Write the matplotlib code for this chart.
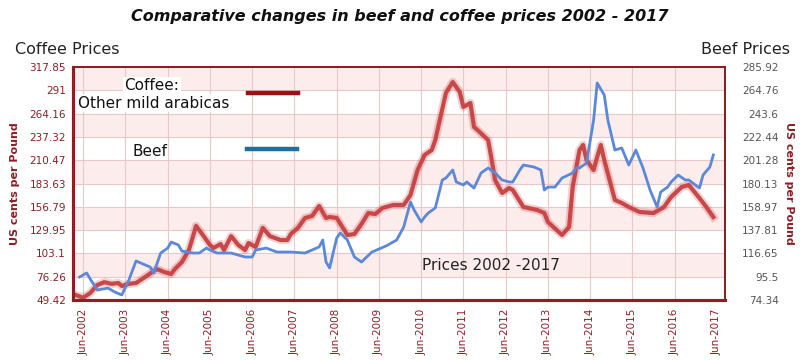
import matplotlib
matplotlib.use("Agg")
import matplotlib.pyplot as plt
import matplotlib.dates as mdates
import numpy as np
import pandas as pd

# ── Data ──────────────────────────────────────────────────────
coffee_months = [
    "2002-04", "2002-06", "2002-08", "2002-10", "2002-12", "2003-02", "2003-04",
    "2003-05", "2003-07", "2003-09", "2003-12", "2004-02", "2004-03", "2004-05",
    "2004-07", "2004-08", "2004-10", "2004-12", "2005-02", "2005-04", "2005-06",
    "2005-07", "2005-09", "2005-10", "2005-12", "2006-02", "2006-04", "2006-05",
    "2006-07", "2006-09", "2006-11", "2007-02", "2007-04", "2007-05", "2007-07",
    "2007-09", "2007-11", "2008-01", "2008-03", "2008-04", "2008-06", "2008-09",
    "2008-11", "2009-01", "2009-03", "2009-05", "2009-07", "2009-10", "2010-01",
    "2010-03", "2010-05", "2010-07", "2010-09", "2010-10", "2011-01", "2011-03",
    "2011-05", "2011-06", "2011-08", "2011-09", "2011-10", "2012-01", "2012-02",
    "2012-03", "2012-05", "2012-07", "2012-08", "2012-11", "2013-03", "2013-05",
    "2013-06", "2013-10", "2013-12", "2014-01", "2014-03", "2014-04", "2014-05",
    "2014-07", "2014-08", "2014-09", "2014-10", "2015-01", "2015-03", "2015-05",
    "2015-08", "2015-12", "2016-03", "2016-05", "2016-08", "2016-10", "2017-01",
    "2017-03", "2017-05",
]
coffee_cents = [
    55.0, 52.0, 57.5, 66.7, 70.0, 68.0, 69.0,
    65.6, 68.0, 69.0, 77.0, 82.8, 85.0, 81.7,
    79.4, 85.0, 93.0, 107.0, 134.7, 124.3, 112.8,
    109.3, 113.9, 107.0, 123.0, 112.8, 107.0, 115.0,
    110.5, 132.4, 123.0, 118.5, 118.5, 125.4, 132.4,
    143.9, 146.2, 157.7, 143.9, 145.0, 143.9, 124.3,
    125.4, 137.0, 149.6, 148.5, 155.4, 158.9, 158.9,
    170.4, 199.2, 216.5, 222.2, 233.7, 287.9, 300.5,
    289.0, 271.8, 276.4, 248.7, 245.3, 233.7, 210.7,
    187.7, 172.7, 178.4, 176.1, 156.6, 153.1, 149.6,
    139.3, 124.3, 133.5, 179.6, 222.2, 228.0, 210.7,
    199.2, 214.2, 228.0, 210.7, 164.6, 161.2, 156.6,
    150.8, 149.6, 156.6, 168.1, 179.6, 181.9, 166.9,
    156.6, 145.0,
]

beef_months = [
    "2002-05", "2002-07", "2002-08", "2002-10", "2003-01", "2003-03", "2003-05",
    "2003-07", "2003-09", "2003-11", "2004-01", "2004-02", "2004-04", "2004-06",
    "2004-07", "2004-09", "2004-10", "2005-01", "2005-03", "2005-05", "2005-06",
    "2005-08", "2005-12", "2006-04", "2006-06", "2006-07", "2006-10", "2007-01",
    "2007-05", "2007-09", "2008-01", "2008-02", "2008-03", "2008-04", "2008-05",
    "2008-06", "2008-07", "2008-09", "2008-11", "2009-01", "2009-04", "2009-08",
    "2009-11", "2010-01", "2010-03", "2010-04", "2010-06", "2010-07", "2010-08",
    "2010-10", "2010-12", "2011-01", "2011-03", "2011-04", "2011-06", "2011-07",
    "2011-09", "2011-11", "2012-01", "2012-03", "2012-05", "2012-07", "2012-08",
    "2012-10", "2012-11", "2013-02", "2013-04", "2013-05", "2013-06", "2013-08",
    "2013-10", "2014-01", "2014-02", "2014-03", "2014-05", "2014-07", "2014-08",
    "2014-10", "2014-11", "2015-01", "2015-03", "2015-05", "2015-07", "2015-09",
    "2015-11", "2016-01", "2016-02", "2016-04", "2016-05", "2016-07", "2016-09",
    "2016-10", "2017-01", "2017-02", "2017-04", "2017-05",
]
beef_cents = [
    95.2, 98.9, 93.4, 83.4, 85.2, 81.6, 78.9,
    92.5, 109.8, 107.0, 104.3, 98.9, 117.0, 121.5,
    127.0, 124.3, 118.8, 117.0, 117.0, 121.5, 119.7,
    117.0, 117.0, 113.4, 113.4, 119.7, 121.5, 117.9,
    117.9, 117.0, 122.5, 128.8, 108.8, 103.4, 117.0,
    130.6, 135.2, 128.8, 113.4, 108.8, 117.9, 123.4,
    128.8, 140.6, 163.3, 156.1, 145.2, 149.7, 153.3,
    157.9, 183.3, 185.1, 192.4, 181.5, 178.8, 181.5,
    176.0, 189.7, 194.2, 189.7, 183.3, 181.5, 181.5,
    192.4, 196.9, 195.1, 192.4, 174.2, 176.9, 176.9,
    185.1, 189.7, 194.2, 194.2, 198.7, 237.8, 271.4,
    260.5, 237.8, 210.5, 212.4, 196.9, 210.5, 194.2,
    174.2, 158.8, 172.4, 176.9, 181.5, 187.8, 183.3,
    183.3, 176.0, 187.8, 195.1, 206.0,
]

coffee_ticks = [49.42, 76.26, 103.1, 129.95, 156.79, 183.63, 210.47,
                237.32, 264.16, 291, 317.85]
beef_ticks = [74.34, 95.5, 116.65, 137.81, 158.97, 180.13, 201.28,
              222.44, 243.6, 264.76, 285.92]
tick_years = list(range(2002, 2018))

# ── Style ─────────────────────────────────────────────────────
DARKRED = "#8b1f24"
GRID = "#e8c8c8"
BAND = "#fcecec"
COFFEE = "#c8484a"
BEEF = "#5b88d8"

W, H = 806, 360
fig = plt.figure(figsize=(W / 100, H / 100), dpi=100)
ax = fig.add_axes([73 / W, 1 - 300 / H, (725 - 73) / W, (300 - 67) / H])
ax2 = ax.twinx()


def px(x, y):
    """Pixel position in the reference -> figure fraction."""
    return x / W, 1 - y / H


coffee_x = pd.to_datetime(coffee_months)
beef_x = pd.to_datetime(beef_months)

# background bands + grid
for i in range(len(coffee_ticks) - 1):
    if i % 2 == 1:
        ax.axhspan(coffee_ticks[i], coffee_ticks[i + 1], color=BAND, lw=0, zorder=0)
for t in coffee_ticks[1:-1]:
    ax.axhline(t, color=GRID, lw=0.8, zorder=0.5)
jun_ticks = pd.to_datetime([f"{y}-06-01" for y in tick_years])
for t in jun_ticks[:-1]:
    ax.axvline(t, color=GRID, lw=0.8, zorder=0.5)

# coffee with a soft halo
ax.plot(coffee_x, coffee_cents, color=COFFEE, lw=6, alpha=0.25,
        solid_joinstyle="round", zorder=2)
ax.plot(coffee_x, coffee_cents, color=COFFEE, lw=3, solid_joinstyle="round",
        zorder=3)

ax2.plot(beef_x, beef_cents, color=BEEF, lw=2, solid_joinstyle="round", zorder=3)

ax.set_xlim(pd.Timestamp("2002-03-05"), pd.Timestamp("2017-08-10"))
ax.set_ylim(coffee_ticks[0], coffee_ticks[-1])
ax2.set_ylim(beef_ticks[0], beef_ticks[-1])

ax.set_yticks(coffee_ticks)
ax.set_yticklabels([f"{t:g}" for t in coffee_ticks])
ax2.set_yticks(beef_ticks)
ax2.set_yticklabels([f"{t:g}" for t in beef_ticks])
ax.set_xticks(jun_ticks)
ax.set_xticklabels([f"Jun-{y}" for y in tick_years])

ax.tick_params(axis="y", length=0, pad=5, labelsize=7.5, labelcolor=DARKRED)
ax.tick_params(axis="x", length=0, pad=6, labelsize=7.5, labelcolor=DARKRED,
               labelrotation=90)
ax2.tick_params(axis="y", length=0, pad=8, labelsize=7.5, labelcolor="#555555")
for lab in ax2.get_yticklabels():
    lab.set_horizontalalignment("right")
    lab.set_x(1.065)

for a in (ax, ax2):
    for side, sp in a.spines.items():
        sp.set_color(DARKRED)
        sp.set_linewidth(2.2 if side in ("left", "bottom") else 1.4)

ax.set_ylabel("US cents per Pound", color=DARKRED, fontsize=8,
              fontweight="bold")
ax.yaxis.set_label_coords((20 - 73) / 652, 0.5)
ax2.set_ylabel("US cents per Pound", color=DARKRED, fontsize=8,
               fontweight="bold", rotation=270, va="center")
ax2.yaxis.set_label_coords((789 - 73) / 652, 0.5)
ax.set_zorder(ax2.get_zorder() - 1)
ax2.patch.set_visible(False)

# titles and captions
fig.text(*px(400, 17), "Comparative changes in beef and coffee prices 2002 - 2017",
         ha="center", va="center", fontsize=11.5, fontweight="bold",
         fontstyle="italic", color="#111111")
fig.text(*px(15, 50), "Coffee Prices", ha="left", va="center", fontsize=11.5,
         color="#222222")
fig.text(*px(790, 50), "Beef Prices", ha="right", va="center", fontsize=11.5,
         color="#222222")

# hand-made legend
fig.text(*px(152, 86), "Coffee:", ha="center", va="center", fontsize=11,
         color="#111111", bbox=dict(facecolor="white", edgecolor="none", pad=1))
fig.text(*px(78, 103), "Other mild arabicas", ha="left", va="center",
         fontsize=11, color="#111111",
         bbox=dict(facecolor="white", edgecolor="none", pad=1))
fig.text(*px(133, 151), "Beef", ha="left", va="center", fontsize=11,
         color="#111111")
fig.add_artist(plt.Line2D([248 / W, 298 / W], [1 - 93 / H] * 2, color="#9b1111",
                          lw=3.2))
fig.add_artist(plt.Line2D([247 / W, 297 / W], [1 - 149 / H] * 2, color="#1f6e9c",
                          lw=3.2))

fig.text(*px(422, 265), "Prices 2002 -2017", ha="left", va="center",
         fontsize=11, color="#222222")

fig.savefig("out.png", dpi=100, facecolor="white")
